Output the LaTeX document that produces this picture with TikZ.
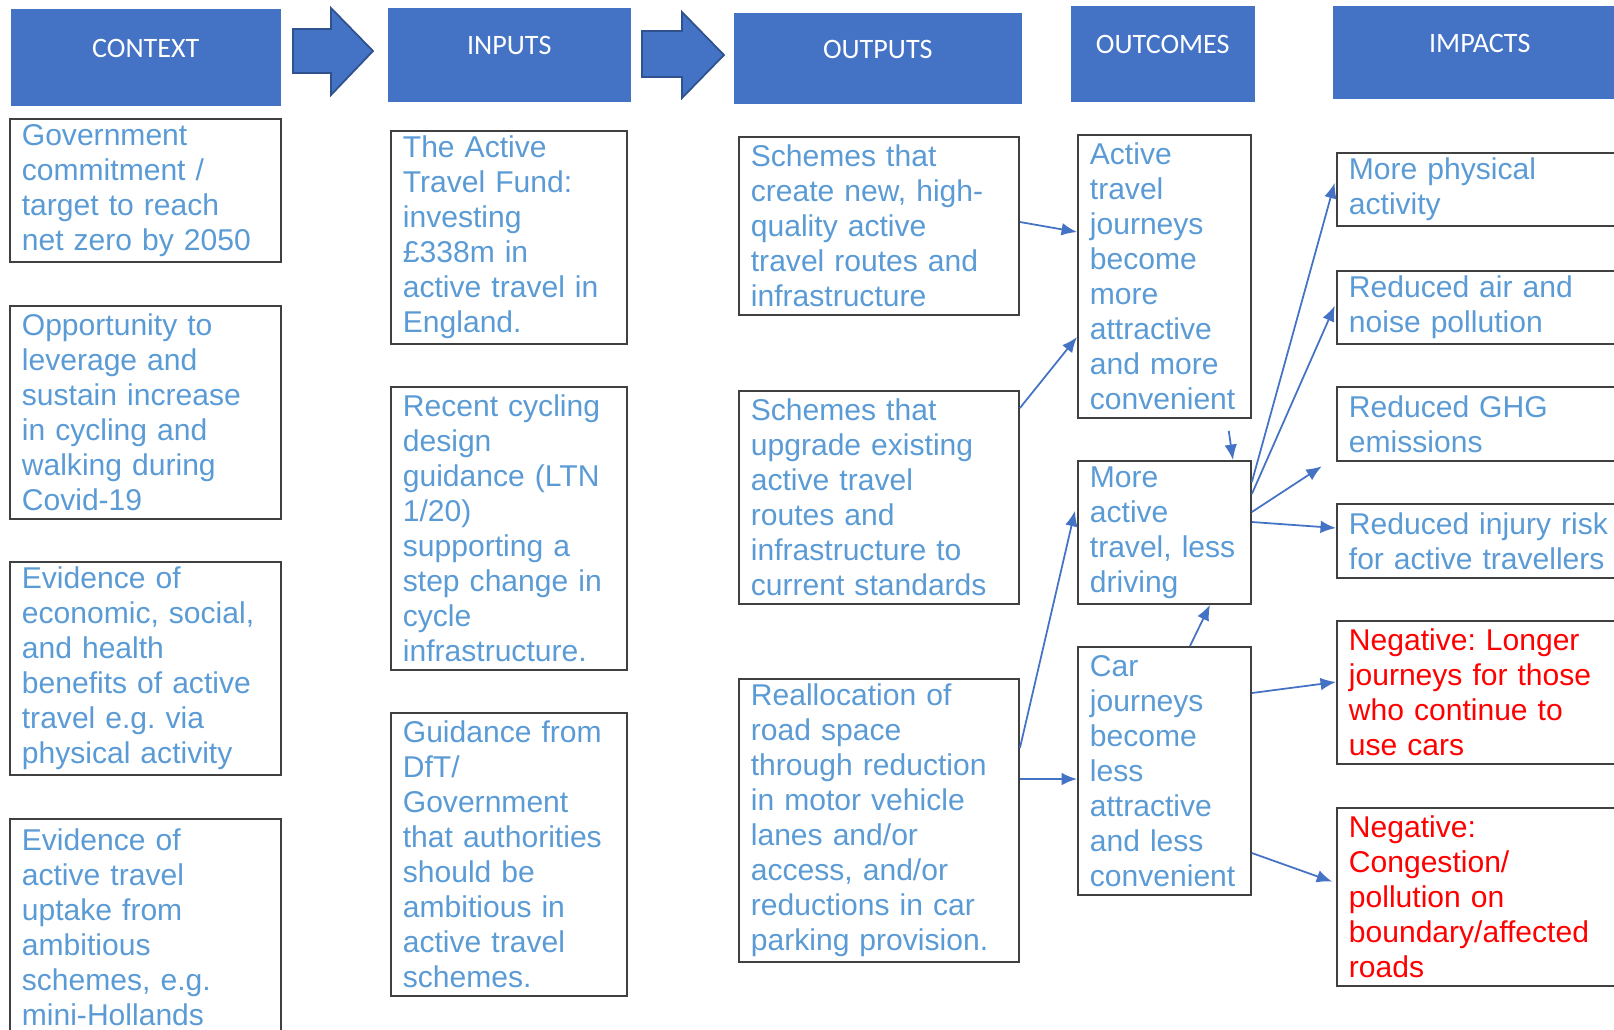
\documentclass[tikz,border=0pt]{standalone}
\usepackage{fontspec}
\setmainfont{Liberation Sans}
\newfontfamily\headfont{Carlito}
\usetikzlibrary{arrows.meta}

\definecolor{headblue}{HTML}{4472C4}
\definecolor{headedge}{HTML}{2F528F}
\definecolor{textblue}{HTML}{5B9BD5}
\definecolor{boxedge}{HTML}{404040}
\hyphenpenalty=10000
\exhyphenpenalty=10000
\frenchspacing

\tikzset{
  head/.style={fill=headblue, text=white, anchor=north west, inner sep=0pt,
    font=\headfont\fontsize{8}{9.6}\selectfont, text height=0.2cm, text depth=0.2cm},
  blockarrow/.style={fill=headblue, draw=headedge, line width=0.5pt},
  box/.style={draw=boxedge, line width=0.5pt, anchor=north west, align=left,
    inner xsep=0.12cm, inner ysep=0pt, text=textblue,
    font=\fontsize{8.55}{9.96}\selectfont},
  ctx/.style={box, text width=2.47cm},
  inp/.style={box, text width=2.12cm},
  outp/.style={box, text width=2.56cm},
  outc/.style={box, text width=1.49cm},
  imp/.style={box, text width=2.80cm},
  neg/.style={imp, text=red},
  link/.style={draw=headblue, line width=0.5pt, -{Latex[length=4.4pt,width=3.6pt]}}
}

\begin{document}
\begin{tikzpicture}[x=0.01cm, y=-0.01cm]
\useasboundingbox (0,0) rectangle (1614,1029);
\clip (0,0) rectangle (1614,1029);
%headers
\node[head, minimum width=2.70cm, minimum height=0.97cm] (hctx) at (10,8) {CONTEXT};
\node[head, minimum width=2.43cm, minimum height=0.94cm] (hin) at (387,7) {INPUTS};
\node[head, minimum width=2.88cm, minimum height=0.91cm] (hout) at (733,12) {OUTPUTS};
\node[head, minimum width=1.84cm, minimum height=0.96cm] (hoc) at (1070,5) {OUTCOMES};
\node[head, minimum width=2.94cm, minimum height=0.93cm] (himp) at (1332,5) {IMPACTS};
\draw[blockarrow] (293,29) -- (331,29) -- (331,8) -- (373,51) -- (331,95) -- (331,73) -- (293,73) -- cycle;
\draw[blockarrow] (642,31) -- (682,31) -- (682,12) -- (724,55) -- (682,98) -- (682,77) -- (642,77) -- cycle;
%context
\node[ctx, minimum height=1.43cm] (c1) at (9,118) {Government\\commitment /\\target to reach\\net zero by 2050};
\node[ctx, minimum height=2.13cm] (c2) at (9,305) {Opportunity to\\leverage and\\sustain increase\\in cycling and\\walking during\\Covid-19};
\node[ctx, minimum height=2.13cm] (c3) at (9,561) {Evidence of\\economic, social,\\and health\\benefits of active\\travel e.g. via\\physical activity};
\node[ctx, minimum height=2.16cm] (c4) at (9,818) {Evidence of\\active travel\\uptake from\\ambitious\\schemes, e.g.\\mini-Hollands};
%inputs
\node[inp, minimum height=2.13cm] (i1) at (390,130) {The Active\\Travel Fund:\\investing\\£338m in\\active travel in\\England.};
\node[inp, minimum height=2.83cm] (i2) at (390,386) {Recent cycling\\design\\guidance (LTN\\1/20)\\supporting a\\step change in\\cycle\\infrastructure.};
\node[inp, minimum height=2.83cm] (i3) at (390,712) {Guidance from\\DfT/\\Government\\that authorities\\should be\\ambitious in\\active travel\\schemes.};
%outputs
\node[outp, minimum height=1.78cm] (o1) at (738,136) {Schemes that\\create new, high-\\quality active\\travel routes and\\infrastructure};
\node[outp, minimum height=2.13cm] (o2) at (738,390) {Schemes that\\upgrade existing\\active travel\\routes and\\infrastructure to\\current standards};
\node[outp, minimum height=2.83cm] (o3) at (738,678) {Reallocation of\\road space\\through reduction\\in motor vehicle\\lanes and/or\\access, and/or\\reductions in car\\parking provision.};
%outcomes
\node[outc, minimum height=2.83cm] (oc1) at (1077,134) {Active\\travel\\journeys\\become\\more\\attractive\\and more\\convenient};
\node[outc, minimum height=1.43cm] (oc2) at (1077,460) {More\\active\\travel, less\\driving};
\node[outc, minimum height=2.48cm] (oc3) at (1077,646) {Car\\journeys\\become\\less\\attractive\\and less\\convenient};
%impacts
\node[imp, minimum height=0.73cm] (p1) at (1336,152) {More physical\\activity};
\node[imp, minimum height=0.73cm] (p2) at (1336,270) {Reduced air and\\noise pollution};
\node[imp, minimum height=0.74cm] (p3) at (1336,386) {Reduced GHG\\emissions};
\node[imp, minimum height=0.74cm] (p4) at (1336,503) {Reduced injury risk\\for active travellers};
\node[neg, minimum height=1.43cm] (p5) at (1336,620) {Negative: Longer\\journeys for those\\who continue to\\use cars};
\node[neg, minimum height=1.78cm] (p6) at (1336,807) {Negative:\\Congestion/\\pollution on\\boundary/affected\\roads};
%links outputs -> outcomes
\draw[link] (o1.east |- 0,222) -- (oc1.west |- 0,232);
\draw[link] (o2.east |- 0,408) -- (oc1.west |- 0,337);
\draw[link, shorten >=0.09cm] (o3.east |- 0,748) -- (oc2.west |- 0,502);
\draw[link] (o3.east |- 0,779) -- (oc3.west |- 0,779);
%links between outcomes
\draw[link, shorten <=0.12cm] (oc1.south -| 1227,0) -- (oc2.north -| 1233,0);
\draw[link] (oc3.north -| 1190,0) -- (oc2.south -| 1210,0);
%links outcomes -> impacts
\draw[link, shorten >=0.05cm] (oc2.east |- 0,482) -- (p1.west |- 0,178);
\draw[link, shorten >=0.03cm] (oc2.east |- 0,494) -- (p2.west |- 0,303);
\draw[link, shorten >=0.17cm] (oc2.east |- 0,512) -- (p3.west |- 0,457);
\draw[link] (oc2.east |- 0,522) -- (p4.west |- 0,528);
\draw[link] (oc3.east |- 0,693) -- (p5.west |- 0,682);
\draw[link, shorten >=0.04cm] (oc3.east |- 0,853) -- (p6.west |- 0,883);
\end{tikzpicture}
\end{document}
